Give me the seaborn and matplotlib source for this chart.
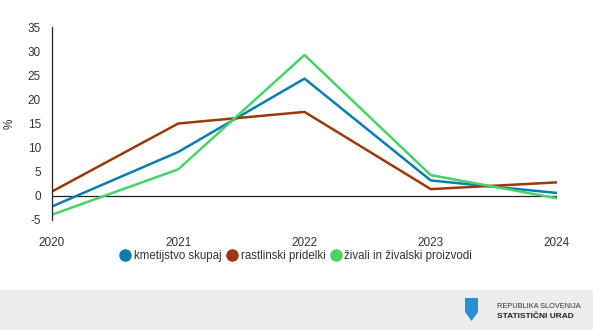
import matplotlib
matplotlib.use("Agg")
import matplotlib.pyplot as plt
import seaborn as sns
import pandas as pd
from matplotlib.patches import Rectangle, Polygon
from matplotlib.lines import Line2D

years = [2020, 2021, 2022, 2023, 2024]
kmetijstvo = [-2.2, 9.1, 24.3, 3.2, 0.6]
rastlinski = [0.9, 15.0, 17.4, 1.4, 2.8]
zivali = [-3.9, 5.5, 29.2, 4.3, -0.5]
series_names = ["kmetijstvo skupaj", "rastlinski pridelki", "živali in živalski proizvodi"]
colors = ["#0a7db0", "#9a3a0a", "#45d36a"]
y_ticks = [-5, 0, 5, 10, 15, 20, 25, 30, 35]

df = pd.DataFrame({
    "year": years * 3,
    "value": kmetijstvo + rastlinski + zivali,
    "series": [series_names[0]] * 5 + [series_names[1]] * 5 + [series_names[2]] * 5,
})

sns.set_theme(style="white")
plt.rcParams["font.family"] = ["Liberation Sans", "DejaVu Sans"]

fig = plt.figure(figsize=(5.93, 3.30), dpi=100)
ax = fig.add_axes([52 / 593, 1 - 220 / 330, (557 - 52) / 593, (220 - 27) / 330])

sns.lineplot(data=df, x="year", y="value", hue="series", palette=colors,
             hue_order=series_names, linewidth=1.8, ax=ax, legend=False)

ax.axhline(0, color="#222222", linewidth=0.9, zorder=1)
ax.set_xlim(2020, 2024)
ax.set_ylim(-5, 35)
ax.set_yticks(y_ticks)
ax.set_yticklabels([str(t) for t in y_ticks])
ax.set_xticks(years)
ax.set_xticklabels([str(y) for y in years])
for s in ["top", "right", "bottom"]:
    ax.spines[s].set_visible(False)
ax.spines["left"].set_color("#222222")
ax.spines["left"].set_linewidth(0.9)
ax.tick_params(axis="y", length=0, pad=8, labelsize=8.5, colors="#333333")
ax.tick_params(axis="x", length=4, width=0.8, color="#999999", pad=8,
               labelsize=8.5, labelcolor="#333333", direction="out")
ax.set_xlabel("")
ax.set_ylabel("%", fontsize=8.5, color="#333333")
ax.yaxis.set_label_coords(-36 / 505, 0.5)

handles = [Line2D([0], [0], marker="o", color="none", markerfacecolor=c,
                  markeredgecolor=c, markersize=8) for c in colors]
fig.legend(handles, series_names, loc="center", bbox_to_anchor=(0.5, 1 - 256 / 330),
           ncol=3, frameon=False, fontsize=8.3, handletextpad=0.35,
           columnspacing=0.5, handlelength=0.8, labelcolor="#333333")

# footer
fig.patches.append(Rectangle((0, 0), 1, 40 / 330, transform=fig.transFigure,
                             facecolor="#ececec", edgecolor="none", zorder=0))
shield = Polygon([(465 / 593, 1 - 298 / 330), (478 / 593, 1 - 298 / 330),
                  (478 / 593, 1 - 312 / 330), (471.5 / 593, 1 - 321 / 330),
                  (465 / 593, 1 - 312 / 330)], closed=True,
                 transform=fig.transFigure, facecolor="#2a8fd6", edgecolor="none")
fig.patches.append(shield)
fig.text(497 / 593, 1 - 306 / 330, "REPUBLIKA SLOVENIJA", fontsize=5.3,
         color="#333333", va="center", ha="left")
fig.text(497 / 593, 1 - 317 / 330, "STATISTIČNI URAD", fontsize=6.0,
         color="#222222", va="center", ha="left", fontweight="bold")

fig.savefig("out.png", dpi=100)
